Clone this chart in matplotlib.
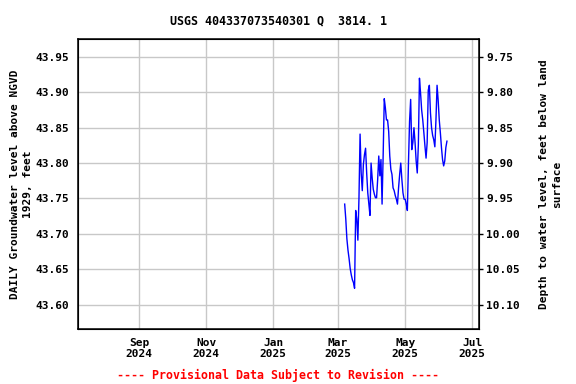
import matplotlib
matplotlib.use("Agg")
import matplotlib.pyplot as plt
import matplotlib.dates as mdates
import numpy as np
import datetime as dt

# ---- data ----
start_date = dt.date(2025, 3, 7)
levels = [
    43.742, 43.721, 43.693, 43.677, 43.665, 43.651, 43.642, 43.635, 43.631, 43.623,
    43.733, 43.721, 43.691, 43.751, 43.841, 43.786, 43.761, 43.798, 43.812, 43.821,
    43.786, 43.758, 43.742, 43.726, 43.800, 43.779, 43.763, 43.756, 43.751, 43.751,
    43.777, 43.810, 43.782, 43.805, 43.742, 43.812, 43.891, 43.878, 43.861, 43.861,
    43.845, 43.810, 43.791, 43.784, 43.765, 43.761, 43.754, 43.749, 43.742, 43.765,
    43.784, 43.800, 43.777, 43.758, 43.749, 43.749, 43.742, 43.733, 43.800, 43.859,
    43.890, 43.819, 43.829, 43.850, 43.829, 43.803, 43.786, 43.826, 43.920, 43.899,
    43.875, 43.861, 43.843, 43.824, 43.807, 43.829, 43.903, 43.910, 43.871, 43.850,
    43.839, 43.833, 43.823, 43.861, 43.910, 43.889, 43.861, 43.843, 43.822, 43.805,
    43.796, 43.803, 43.822, 43.831,
]
dates = [start_date + dt.timedelta(days=i) for i in range(len(levels))]

left_ticks = [43.60, 43.65, 43.70, 43.75, 43.80, 43.85, 43.90, 43.95]
right_ticks = [9.75, 9.80, 9.85, 9.90, 9.95, 10.00, 10.05, 10.10]
datum_offset = 53.70  # depth = offset - level
x_ticks = [dt.date(2024, 9, 1), dt.date(2024, 11, 1), dt.date(2025, 1, 1),
           dt.date(2025, 3, 1), dt.date(2025, 5, 1), dt.date(2025, 7, 1)]
x_tick_labels = ["Sep\n2024", "Nov\n2024", "Jan\n2025", "Mar\n2025", "May\n2025", "Jul\n2025"]

title = "USGS 404337073540301 Q  3814. 1"
ylabel_left = "DAILY Groundwater level above NGVD\n1929, feet"
ylabel_right = "Depth to water level, feet below land\nsurface"
footer = "---- Provisional Data Subject to Revision ----"

# ---- plot ----
plt.rcParams['font.family'] = ['DejaVu Sans Mono']
plt.rcParams['font.weight'] = 'bold'
fs = 8

fig = plt.figure(figsize=(5.76, 3.84), dpi=100)
ax = fig.add_axes([78/576, 1-329.3/384, (479.3-78)/576, (329.3-39.3)/384])

ylo, yhi = 43.565, 43.975
ax.set_ylim(ylo, yhi)
ax.set_xlim(mdates.date2num(dt.datetime(2024, 7, 7, 12)), mdates.date2num(dt.datetime(2025, 7, 7, 10)))

ax.plot(dates, levels, color="#0000ff", linewidth=1.0)

ax.set_yticks(left_ticks)
ax.set_yticklabels([f"{v:.2f}" for v in left_ticks], fontsize=fs, fontweight='bold')
ax.set_xticks([mdates.date2num(d) for d in x_ticks])
ax.set_xticklabels(x_tick_labels, fontsize=fs, fontweight='bold', linespacing=1.15)
ax.tick_params(axis='both', length=0, pad=6)
ax.grid(True, color="#c8c8c8", linewidth=1.0)
ax.set_axisbelow(True)
for s in ax.spines.values():
    s.set_linewidth(1.1)
    s.set_color("black")

ax2 = ax.twinx()
ax2.set_ylim(datum_offset - ylo, datum_offset - yhi)
ax2.set_yticks(right_ticks)
ax2.set_yticklabels([f"{v:.2f}" for v in right_ticks], fontsize=fs, fontweight='bold')
ax2.tick_params(axis='y', length=3, width=1, pad=2, direction='out')

ax.set_ylabel(ylabel_left, fontsize=fs, fontweight='bold', labelpad=2, linespacing=1.4)
ax2.set_ylabel(ylabel_right, fontsize=fs, fontweight='bold', labelpad=14, linespacing=1.35)

ax.set_title(title, fontsize=8.4, fontweight='bold', pad=11)
fig.text(278/576, 1-375/384, footer, color="red", fontsize=fs+0.4, fontweight='bold',
         ha='center', va='center')

fig.savefig("out.png", dpi=100)
